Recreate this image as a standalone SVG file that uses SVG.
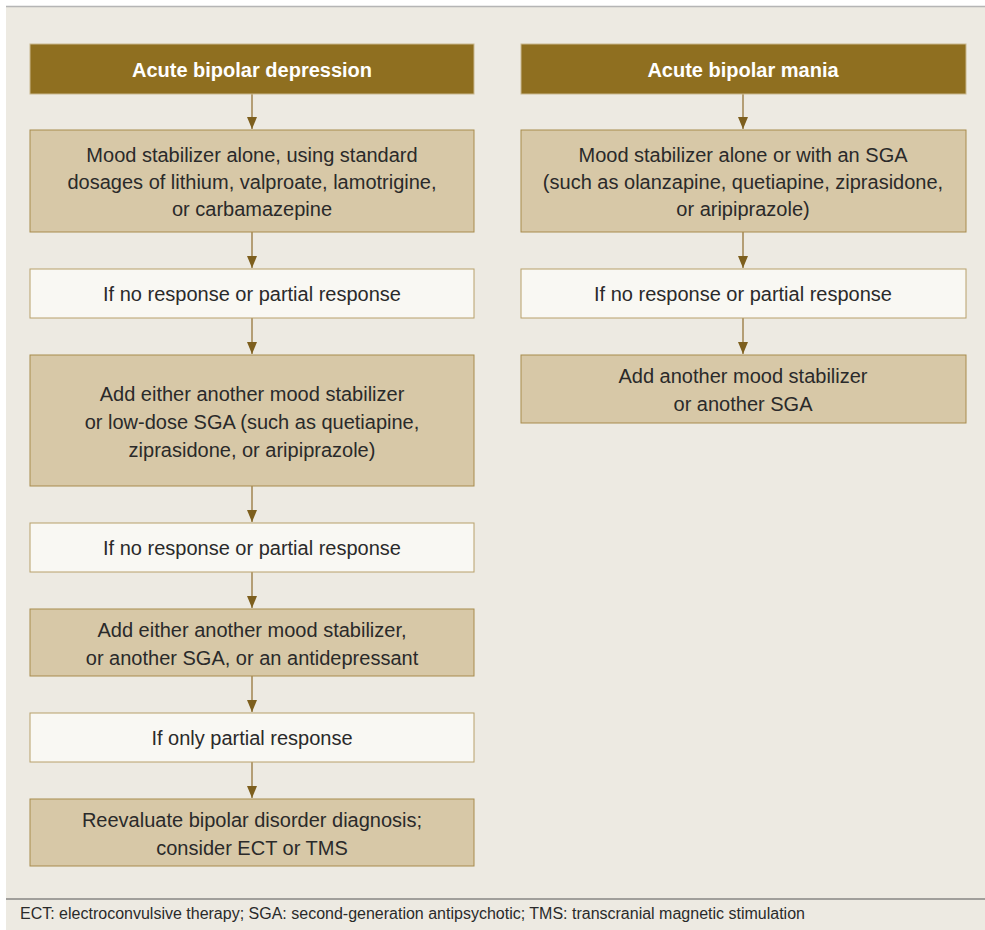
<svg xmlns="http://www.w3.org/2000/svg" width="985" height="930" viewBox="0 0 985 930">
<style>
.bg{fill:#EDEAE2}
.hdr{fill:#8F6F20;stroke:#C9B88E;stroke-width:1}
.tan{fill:#D7C8A7;stroke:#A88B4C;stroke-width:1}
.lt{fill:#F9F8F3;stroke:#B8A06A;stroke-width:1}
.ht{font-family:"Liberation Sans",Arial,sans-serif;font-size:20px;font-weight:bold;fill:#ffffff;text-anchor:middle}
.t{font-family:"Liberation Sans",Arial,sans-serif;font-size:20px;fill:#2a2a2a;text-anchor:middle}
.ft{font-family:"Liberation Sans",Arial,sans-serif;font-size:16px;fill:#2a2a2a}
.c{stroke:#A08550;stroke-width:1.5;fill:none}
</style>
<defs>
<marker id="ah" markerWidth="12" markerHeight="10" refX="12" refY="5" orient="auto" markerUnits="userSpaceOnUse" viewBox="0 0 12 10">
<path d="M0,0 L12,5 L0,10 Z" fill="#7D5F1E"/>
</marker>
</defs>
<rect x="0" y="0" width="985" height="930" fill="#ffffff"/>
<rect class="bg" x="6" y="7" width="979" height="923"/>
<line x1="6" y1="6.5" x2="985" y2="6.5" stroke="#B5B5B5" stroke-width="1.5"/>
<line x1="6" y1="899" x2="985" y2="899" stroke="#555555" stroke-width="1"/>

<g id="connectors">
<line class="c" x1="252" y1="94" x2="252" y2="129" marker-end="url(#ah)"/>
<line class="c" x1="252" y1="232" x2="252" y2="268" marker-end="url(#ah)"/>
<line class="c" x1="252" y1="318" x2="252" y2="354" marker-end="url(#ah)"/>
<line class="c" x1="252" y1="486" x2="252" y2="522" marker-end="url(#ah)"/>
<line class="c" x1="252" y1="572" x2="252" y2="608" marker-end="url(#ah)"/>
<line class="c" x1="252" y1="676" x2="252" y2="712" marker-end="url(#ah)"/>
<line class="c" x1="252" y1="762" x2="252" y2="798" marker-end="url(#ah)"/>
<line class="c" x1="743" y1="94" x2="743" y2="129" marker-end="url(#ah)"/>
<line class="c" x1="743" y1="232" x2="743" y2="268" marker-end="url(#ah)"/>
<line class="c" x1="743" y1="318" x2="743" y2="354" marker-end="url(#ah)"/>
</g>

<g id="dep-header">
<rect class="hdr" x="30" y="44" width="444" height="50"/>
<text class="ht" x="252" y="77">Acute bipolar depression</text>
</g>
<g id="dep-1">
<rect class="tan" x="30" y="130" width="444" height="102"/>
<text class="t" x="252" y="162">Mood stabilizer alone, using standard</text>
<text class="t" x="252" y="189">dosages of lithium, valproate, lamotrigine,</text>
<text class="t" x="252" y="216">or carbamazepine</text>
</g>
<g id="dep-2">
<rect class="lt" x="30" y="269" width="444" height="49"/>
<text class="t" x="252" y="301">If no response or partial response</text>
</g>
<g id="dep-3">
<rect class="tan" x="30" y="355" width="444" height="131"/>
<text class="t" x="252" y="401">Add either another mood stabilizer</text>
<text class="t" x="252" y="429">or low-dose SGA (such as quetiapine,</text>
<text class="t" x="252" y="457">ziprasidone, or aripiprazole)</text>
</g>
<g id="dep-4">
<rect class="lt" x="30" y="523" width="444" height="49"/>
<text class="t" x="252" y="555">If no response or partial response</text>
</g>
<g id="dep-5">
<rect class="tan" x="30" y="609" width="444" height="67"/>
<text class="t" x="252" y="637">Add either another mood stabilizer,</text>
<text class="t" x="252" y="665">or another SGA, or an antidepressant</text>
</g>
<g id="dep-6">
<rect class="lt" x="30" y="713" width="444" height="49"/>
<text class="t" x="252" y="745">If only partial response</text>
</g>
<g id="dep-7">
<rect class="tan" x="30" y="799" width="444" height="67"/>
<text class="t" x="252" y="827">Reevaluate bipolar disorder diagnosis;</text>
<text class="t" x="252" y="855">consider ECT or TMS</text>
</g>

<g id="man-header">
<rect class="hdr" x="521" y="44" width="445" height="50"/>
<text class="ht" x="743" y="77">Acute bipolar mania</text>
</g>
<g id="man-1">
<rect class="tan" x="521" y="130" width="445" height="102"/>
<text class="t" x="743" y="162">Mood stabilizer alone or with an SGA</text>
<text class="t" x="743" y="189">(such as olanzapine, quetiapine, ziprasidone,</text>
<text class="t" x="743" y="216">or aripiprazole)</text>
</g>
<g id="man-2">
<rect class="lt" x="521" y="269" width="445" height="49"/>
<text class="t" x="743" y="301">If no response or partial response</text>
</g>
<g id="man-3">
<rect class="tan" x="521" y="355" width="445" height="68"/>
<text class="t" x="743" y="383">Add another mood stabilizer</text>
<text class="t" x="743" y="411">or another SGA</text>
</g>

<text class="ft" x="20" y="919">ECT: electroconvulsive therapy; SGA: second-generation antipsychotic; TMS: transcranial magnetic stimulation</text>
</svg>
